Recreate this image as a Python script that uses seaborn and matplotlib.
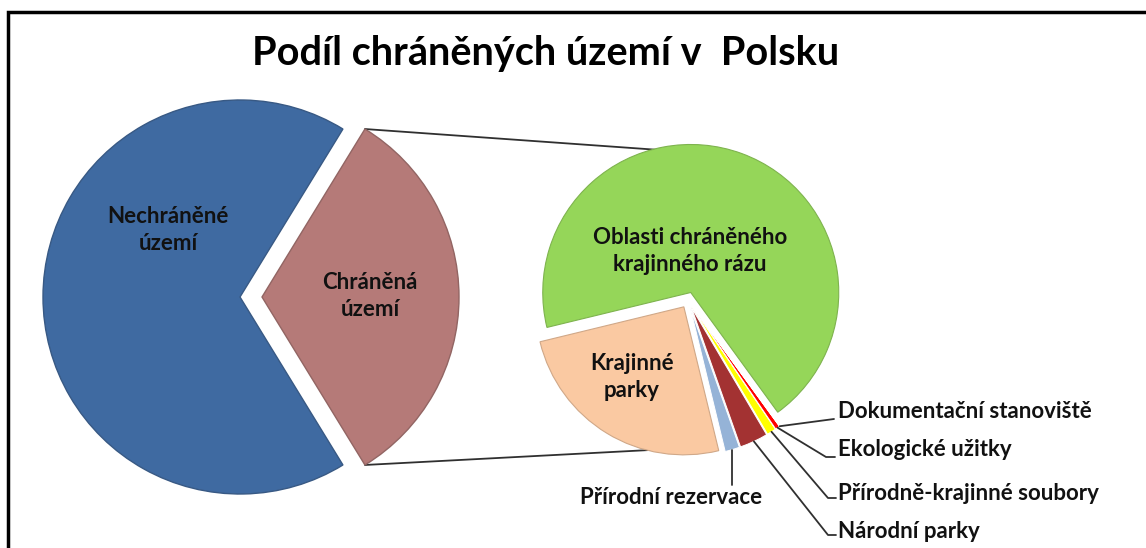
import numpy as np
import matplotlib.pyplot as plt
import seaborn as sns
from matplotlib.patches import Rectangle

sns.set_style("white")
plt.rcParams['font.family'] = ['Lato', 'DejaVu Sans']

# --- data (shares) ---
title = 'Podíl chráněných území v  Polsku'

main_labels = ['Chráněná\núzemí', 'Nechráněné\núzemí']
main_shares = [32.5, 67.5]          # % of the country
main_colors = ['#B57A78', '#3F6AA1']

sub_labels = ['Oblasti chráněného\nkrajinného rázu', 'Krajinné\nparky', 'Přírodní rezervace',
              'Národní parky', 'Přírodně-krajinné soubory', 'Ekologické užitky',
              'Dokumentační stanoviště']
sub_shares = [68.8, 25.0, 1.6, 3.1, 1.0, 0.5, 0.01]   # % of the protected area
sub_colors = ['#95D659', '#FAC9A2', '#95B3D7', '#A33232', '#FFFF00', '#FF0000', '#7F7F7F']

# --- layout (pixel coordinates of the 1146x548 picture, y measured from top) ---
W, H = 1146, 548


def py(y):
    return H - y


main_center = (240, 297)
main_radius = 197
main_explode = [22, 0]          # pixels (matplotlib explode is in data units)
sub_center = (688, 300)
sub_radius = 148
sub_explode = 8

main_label_pos = [(370, 296), (168, 230)]
sub_label_pos = [(690, 251), (632, 377)]

# outside labels: (text position, elbow points of the leader, alignment)
outside = {
    2: ((671, 497), [(None, 485)], 'center'),
    3: ((838, 532), [(828, 535), (836, 535)], 'left'),
    4: ((838, 493), [(828, 498), (836, 498)], 'left'),
    5: ((838, 450), [(826, 457), (835, 457)], 'left'),
    6: ((838, 412), [(834, 419)], 'left'),
}

fig = plt.figure(figsize=(W / 100, H / 100), dpi=100)
ax = fig.add_axes([0, 0, 1, 1])

# left pie
main_wedges, _ = ax.pie(main_shares, colors=main_colors, startangle=-58.5,
                        counterclock=True, explode=main_explode,
                        center=(main_center[0], py(main_center[1])), radius=main_radius)
for w, c in zip(main_wedges, main_colors):
    w.set_edgecolor(sns.dark_palette(c, n_colors=5)[3])
    w.set_linewidth(1.0)

# right pie
sub_wedges, _ = ax.pie(sub_shares, colors=sub_colors, startangle=-54,
                       counterclock=True, explode=[sub_explode] * len(sub_shares),
                       center=(sub_center[0], py(sub_center[1])), radius=sub_radius,
                       wedgeprops=dict(edgecolor='white', linewidth=0.7))
for w, c in zip(sub_wedges[:2], sub_colors[:2]):
    w.set_edgecolor(sns.dark_palette(c, n_colors=6)[4])
    w.set_linewidth(0.8)

ax.set_xlim(0, W)
ax.set_ylim(0, H)
ax.set_aspect('equal')
ax.axis('off')

# connector lines between the protected slice and the second pie
pink = main_wedges[0]
for ang, sign in [(pink.theta2, 1), (pink.theta1, -1)]:
    x0 = pink.center[0] + pink.r * np.cos(np.radians(ang))
    y0 = pink.center[1] + pink.r * np.sin(np.radians(ang))
    x1 = sub_center[0]
    y1 = py(sub_center[1]) + sign * sub_radius
    ax.plot([x0, x1], [y0, y1], color='#303030', lw=1.3, zorder=0.5)

# labels inside slices
txt = dict(fontsize=16, fontweight='bold', color='#111111', ha='center', va='center',
           linespacing=1.3)
for lab, (x, y) in zip(main_labels, main_label_pos):
    ax.text(x, py(y), lab, **txt)
for lab, (x, y) in zip(sub_labels[:2], sub_label_pos):
    ax.text(x, py(y), lab, **txt)

# outside labels with leaders
for i, ((tx, ty), elbows, ha) in outside.items():
    w = sub_wedges[i]
    mid = np.radians((w.theta1 + w.theta2) / 2)
    xs = [w.center[0] + w.r * np.cos(mid)]
    ys = [w.center[1] + w.r * np.sin(mid)]
    for ex, ey in elbows:
        xs.append(xs[0] if ex is None else ex)
        ys.append(py(ey))
    ax.plot(xs, ys, color='#303030', lw=1.3, zorder=3)
    ax.text(tx, py(ty), sub_labels[i], fontsize=16, fontweight='bold', color='#111111',
            ha=ha, va='center')

# title
ax.text(546, py(53), title, fontsize=28.5, fontweight='bold', color='black',
        ha='center', va='center')

# chart border (cut off at right and bottom like the reference)
ax.add_patch(Rectangle((8, py(560)), 1160, 548, fill=False, edgecolor='black',
                       lw=2.5, zorder=5, clip_on=True))

fig.savefig('out.png', dpi=100)
